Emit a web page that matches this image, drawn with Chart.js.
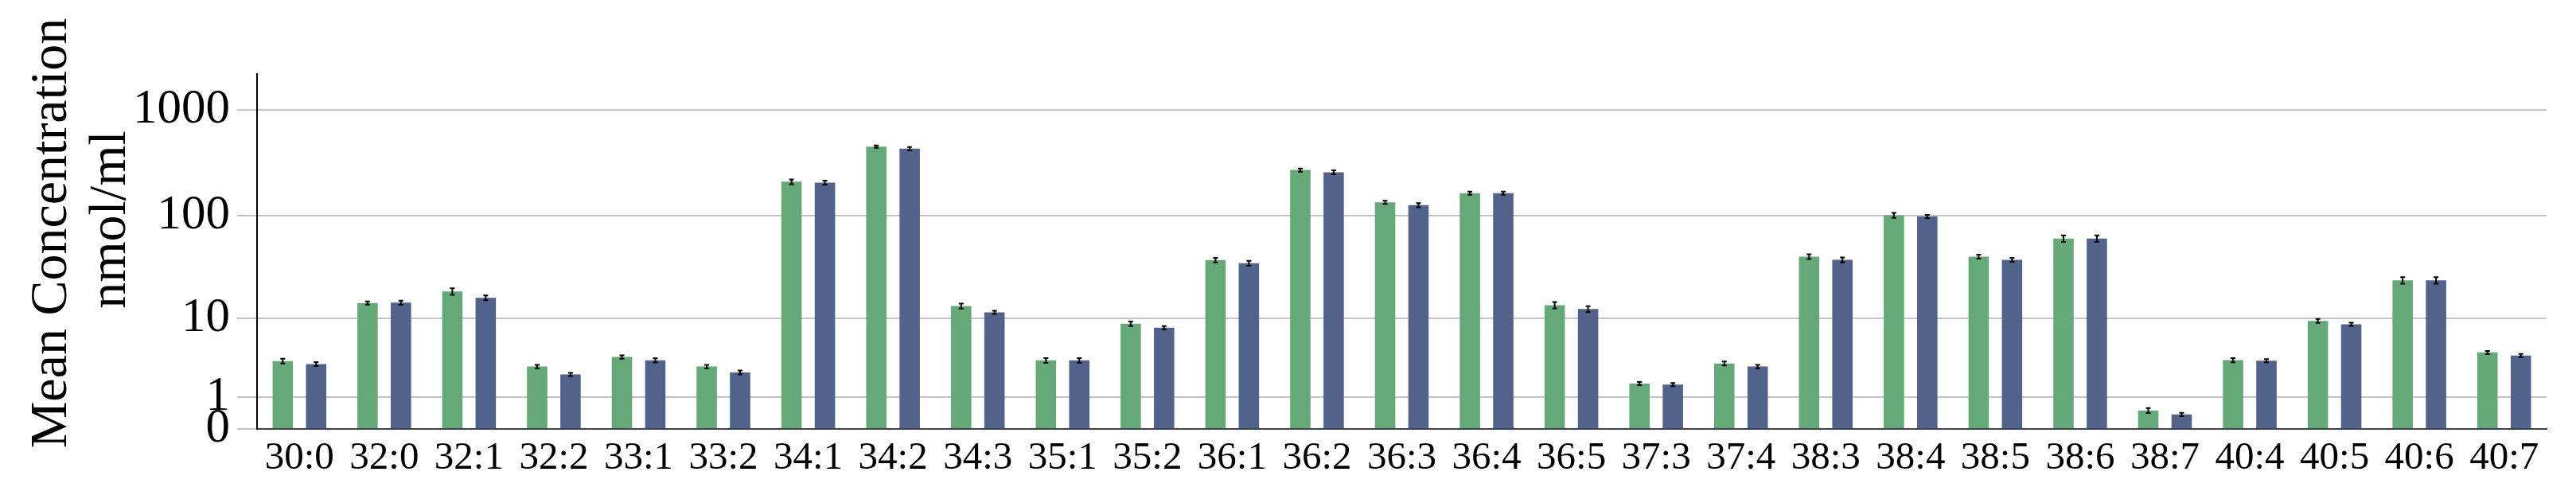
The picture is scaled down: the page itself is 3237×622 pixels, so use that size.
<!DOCTYPE html>
<html>
<head>
<meta charset="utf-8">
<script src="https://cdn.jsdelivr.net/npm/chart.js@4.4.1/dist/chart.umd.min.js"></script>
<style>
  html,body { margin:0; padding:0; background:#fff; }
  #wrap { width:3237px; height:622px; }
</style>
</head>
<body>
<div id="wrap"><canvas id="c" width="3237" height="622"></canvas></div>
<script>
/* ── Data ────────────────────────────────────────────────────────── */
const CATEGORIES = ['30:0','32:0','32:1','32:2','33:1','33:2','34:1','34:2','34:3','35:1','35:2','36:1','36:2','36:3',
                    '36:4','36:5','37:3','37:4','38:3','38:4','38:5','38:6','38:7','40:4','40:5','40:6','40:7'];
const GREEN_VALUES = [3.35, 14.3, 18.6, 2.86, 3.75, 2.86, 210, 450, 13.3, 3.41, 8.75, 37.7, 271, 134,
                      164, 13.6, 1.67, 3.13, 40.7, 101, 40.7, 60.7, 0.49, 3.43, 9.37, 24.0, 4.24];
const BLUE_VALUES  = [3.08, 14.4, 16.1, 2.26, 3.41, 2.40, 206, 432, 11.5, 3.41, 7.94, 35.1, 258, 126,
                      164, 12.4, 1.61, 2.86, 37.9, 98.3, 37.9, 60.7, 0.37, 3.38, 8.63, 24.0, 3.91];
const GREEN_ERR    = [0.23, 0.53, 1.4, 0.14, 0.17, 0.14, 11, 12, 0.75, 0.23, 0.5, 2.0, 9.5, 4.7,
                      5.8, 1.0, 0.09, 0.18, 2.2, 5.4, 1.8, 4.4, 0.08, 0.2, 0.45, 1.8, 0.18];
const BLUE_ERR     = [0.18, 0.7, 0.9, 0.11, 0.2, 0.15, 9, 15, 0.44, 0.23, 0.31, 1.9, 11, 5.6,
                      5.8, 0.85, 0.09, 0.14, 2.1, 3.5, 1.7, 4.4, 0.05, 0.15, 0.34, 1.8, 0.17];
const Y_TICKS      = [0, 1, 10, 100, 1000];
const Y_MAX        = 2172;
const Y_TITLE      = ['Mean Concentration', 'nmol/ml'];

const SERIF = '"Liberation Serif", "Times New Roman", serif';

/* ── log10(x+1) scale, so that 0 can sit on the axis ─────────────── */
class Log1pScale extends Chart.LinearScale {
  getPixelForValue(v) {
    if (v === null || v === undefined) return NaN;
    return this.getPixelForDecimal(Math.log10(v + 1) / Math.log10(this.max + 1));
  }
  getValueForPixel(p) {
    return Math.pow(10, this.getDecimalForPixel(p) * Math.log10(this.max + 1)) - 1;
  }
}
Log1pScale.id = 'log1p';
Log1pScale.defaults = {};
Chart.register(Log1pScale);

/* ── Error bars (small I-beams on bar tops) ──────────────────────── */
const errorBars = {
  id: 'errorBars',
  afterDatasetsDraw(chart) {
    const { ctx, scales: { y } } = chart;
    ctx.save();
    ctx.strokeStyle = '#000';
    ctx.lineWidth = 2;
    chart.data.datasets.forEach((ds, i) => {
      chart.getDatasetMeta(i).data.forEach((bar, j) => {
        const v = ds.data[j], e = ds.errors[j];
        const top = y.getPixelForValue(v + e), bot = y.getPixelForValue(Math.max(0, v - e));
        const x = bar.x, w = 3;
        ctx.beginPath();
        ctx.moveTo(x, top); ctx.lineTo(x, bot);
        ctx.moveTo(x - w, top); ctx.lineTo(x + w, top);
        ctx.moveTo(x - w, bot); ctx.lineTo(x + w, bot);
        ctx.stroke();
      });
    });
    ctx.restore();
  }
};

/* ── Two-line rotated y title ────────────────────────────────────── */
const yTitle = {
  id: 'yTitle',
  afterDraw(chart) {
    const ctx = chart.ctx;
    const spots = [[83, 293], [157, 276]];
    ctx.save();
    ctx.fillStyle = '#000';
    ctx.font = '66px ' + SERIF;
    ctx.textAlign = 'center';
    ctx.textBaseline = 'alphabetic';
    Y_TITLE.forEach((t, i) => {
      ctx.save();
      ctx.translate(spots[i][0], spots[i][1]);
      ctx.rotate(-Math.PI / 2);
      ctx.fillText(t, 0, 0);
      ctx.restore();
    });
    ctx.restore();
  }
};

new Chart(document.getElementById('c'), {
  type: 'bar',
  data: {
    labels: CATEGORIES,
    datasets: [
      { label:'Series A', data:GREEN_VALUES, errors:GREEN_ERR, backgroundColor:'#66A978', borderWidth:0,
        categoryPercentage:0.787, barPercentage:0.61 },
      { label:'Series B', data:BLUE_VALUES, errors:BLUE_ERR, backgroundColor:'#51638B', borderWidth:0,
        categoryPercentage:0.787, barPercentage:0.61 }
    ]
  },
  options: {
    responsive:false, animation:false, devicePixelRatio:1,
    layout: { padding:{ left:0, top:93, right:37, bottom:0 } },
    scales: {
      x: {
        grid:{ display:false, drawTicks:false },
        border:{ display:true, color:'#3e4050', width:2 },
        ticks:{ color:'#000', font:{ family:SERIF, size:49 }, padding:8, maxRotation:0, autoSkip:false },
        afterFit: s => { s.height = 83; }
      },
      y: {
        type:'log1p', min:0, max:Y_MAX,
        afterBuildTicks: s => { s.ticks = Y_TICKS.map(v => ({ value:v })); },
        grid:{ color:'#c4c4c4', lineWidth:2, tickLength:25 },
        border:{ display:true, color:'#000', width:2 },
        ticks:{ color:'#000', font:{ family:SERIF, size:61 }, padding:9, callback: v => String(v) },
        afterFit: s => { s.width = 323; }
      }
    },
    plugins: { legend:{ display:false }, tooltip:{ enabled:false } }
  },
  plugins: [errorBars, yTitle]
});
</script>
</body>
</html>
